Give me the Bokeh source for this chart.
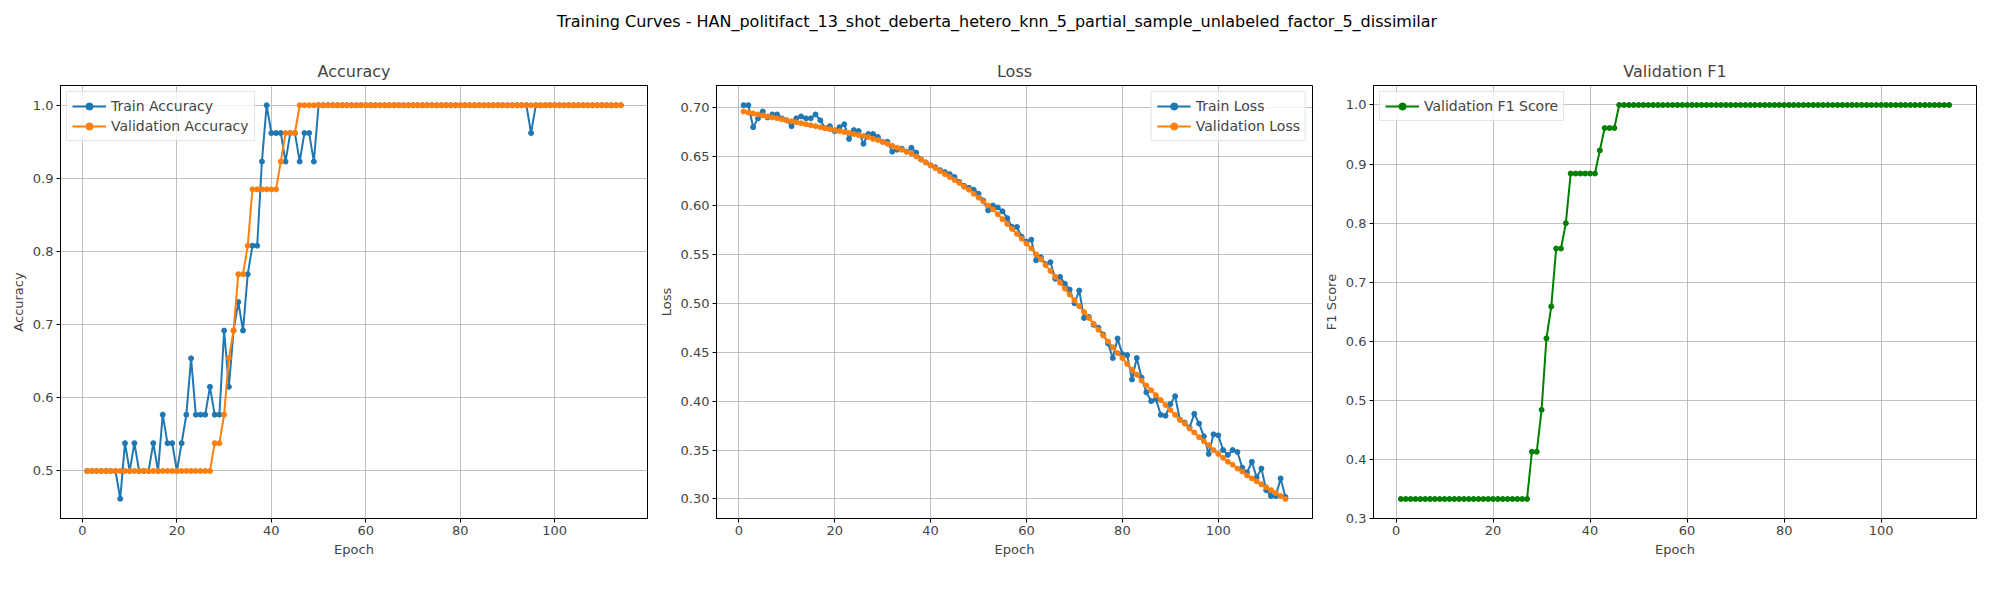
from bokeh.plotting import figure
from bokeh.layouts import column, row
from bokeh.models import Div, Range1d, FixedTicker, PrintfTickFormatter
from bokeh.embed import file_html
from bokeh.resources import INLINE

epochs = list(range(1, 115))

train_acc = ([0.5] * 7 + [0.462, 0.538, 0.5, 0.538, 0.5, 0.5, 0.5, 0.538, 0.5, 0.577, 0.538, 0.538, 0.5,
             0.538, 0.577, 0.654, 0.577, 0.577, 0.577, 0.615, 0.577, 0.577, 0.692, 0.615, 0.692, 0.731,
             0.692, 0.769, 0.808, 0.808, 0.923, 1.0, 0.962, 0.962, 0.962, 0.923, 0.962, 0.962, 0.923,
             0.962, 0.962, 0.923] + [1.0] * 45 + [0.962] + [1.0] * 19)
val_acc = ([0.5] * 27 + [0.538, 0.538, 0.577, 0.654, 0.692, 0.769, 0.769, 0.808] + [0.885] * 6 +
           [0.923, 0.962, 0.962, 0.962] + [1.0] * 69)

train_loss = [0.7025, 0.7025, 0.680, 0.689, 0.696, 0.690, 0.693, 0.693, 0.689, 0.687,
              0.681, 0.689, 0.691, 0.689, 0.689, 0.693, 0.687, 0.679, 0.681, 0.676,
              0.680, 0.683, 0.668, 0.677, 0.676, 0.663, 0.673, 0.673, 0.670, 0.665,
              0.665, 0.655, 0.657, 0.658, 0.655, 0.659, 0.654, 0.647, 0.644, 0.641,
              0.639, 0.636, 0.634, 0.632, 0.629, 0.624, 0.620, 0.618, 0.616, 0.612,
              0.605, 0.595, 0.600, 0.598, 0.594, 0.587, 0.578, 0.578, 0.568, 0.563,
              0.565, 0.544, 0.547, 0.540, 0.542, 0.525, 0.527, 0.520, 0.514, 0.500,
              0.513, 0.485, 0.486, 0.478, 0.475, 0.468, 0.459, 0.444, 0.464, 0.448,
              0.447, 0.422, 0.444, 0.424, 0.409, 0.400, 0.402, 0.386, 0.385, 0.397,
              0.405, 0.381, 0.378, 0.373, 0.387, 0.377, 0.364, 0.346, 0.366, 0.365,
              0.350, 0.345, 0.350, 0.348, 0.332, 0.327, 0.338, 0.322, 0.331, 0.309,
              0.303, 0.303, 0.321, 0.302]
val_loss = [0.696, 0.695, 0.694, 0.693, 0.692, 0.691, 0.690, 0.689, 0.688, 0.687,
            0.686, 0.685, 0.684, 0.683, 0.682, 0.681, 0.680, 0.679, 0.678, 0.677,
            0.676, 0.675, 0.674, 0.673, 0.672, 0.671, 0.670, 0.668, 0.667, 0.665,
            0.663, 0.661, 0.659, 0.657, 0.655, 0.653, 0.650, 0.647, 0.644, 0.641,
            0.638, 0.635, 0.632, 0.629, 0.626, 0.623, 0.619, 0.616, 0.612, 0.608,
            0.604, 0.600, 0.596, 0.591, 0.586, 0.581, 0.576, 0.571, 0.566, 0.561,
            0.556, 0.550, 0.545, 0.539, 0.533, 0.527, 0.521, 0.515, 0.509, 0.503,
            0.497, 0.491, 0.485, 0.479, 0.473, 0.467, 0.461, 0.455, 0.449, 0.444,
            0.438, 0.432, 0.427, 0.421, 0.416, 0.411, 0.406, 0.401, 0.396, 0.391,
            0.386, 0.381, 0.377, 0.372, 0.368, 0.363, 0.359, 0.355, 0.350, 0.346,
            0.342, 0.338, 0.335, 0.331, 0.328, 0.324, 0.321, 0.318, 0.315, 0.312,
            0.309, 0.306, 0.303, 0.300]

val_f1 = ([0.333] * 27 + [0.413, 0.413, 0.484, 0.605, 0.659, 0.757, 0.757, 0.800] + [0.884] * 6 +
          [0.923, 0.961, 0.961, 0.961] + [1.0] * 69)

FONT = "DejaVu Sans"


def make_fig(title, ylabel, yr, yticks, width, left):
    p = figure(width=width, height=505, title=title, output_backend="svg", toolbar_location=None,
               x_range=Range1d(-4.65, 119.65), y_range=Range1d(*yr),
               min_border_left=left, min_border_right=8, min_border_top=10)
    p.title.align = "center"
    p.title.text_font = FONT
    p.title.text_font_size = "16px"
    p.title.text_font_style = "normal"
    p.xaxis.axis_label = "Epoch"
    p.yaxis.axis_label = ylabel
    p.xaxis.ticker = FixedTicker(ticks=[0, 20, 40, 60, 80, 100])
    p.yaxis.ticker = FixedTicker(ticks=yticks)
    for ax in (p.xaxis[0], p.yaxis[0]):
        ax.axis_label_text_font = FONT
        ax.axis_label_text_font_size = "13px"
        ax.axis_label_text_font_style = "normal"
        ax.major_label_text_font = FONT
        ax.major_label_text_font_size = "13px"
        ax.minor_tick_line_color = None
        ax.major_tick_in = 0
        ax.major_tick_out = 4
        ax.axis_label_standoff = 4
        ax.major_label_standoff = 3
    p.grid.grid_line_color = "#b0b0b0"
    p.grid.grid_line_width = 0.8
    p.outline_line_color = "black"
    p.outline_line_alpha = 1
    return p


def series(p, y, color, label):
    p.line(epochs, y, line_color=color, line_width=2, legend_label=label)
    p.scatter(epochs, y, size=5, fill_color=color, line_color=color, legend_label=label)


def style_legend(p, loc):
    p.legend.location = loc
    p.legend.label_text_font = FONT
    p.legend.label_text_font_size = "14px"
    p.legend.border_line_color = "#cccccc"
    p.legend.background_fill_alpha = 0.8
    p.legend.spacing = 2
    p.legend.padding = 5
    p.legend.margin = 6
    p.legend.label_height = 18
    p.legend.glyph_height = 18
    p.legend.glyph_width = 34


p1 = make_fig("Accuracy", "Accuracy", (0.435, 1.027), [0.5, 0.6, 0.7, 0.8, 0.9, 1.0], 655, 60)
series(p1, train_acc, "#1f77b4", "Train Accuracy")
series(p1, val_acc, "#ff7f0e", "Validation Accuracy")
style_legend(p1, "top_left")
p1.yaxis.formatter = PrintfTickFormatter(format="%.1f")

p2 = make_fig("Loss", "Loss", (0.28, 0.7226),
              [0.30, 0.35, 0.40, 0.45, 0.50, 0.55, 0.60, 0.65, 0.70], 665, 40)
series(p2, train_loss, "#1f77b4", "Train Loss")
series(p2, val_loss, "#ff7f0e", "Validation Loss")
style_legend(p2, "top_right")
p2.yaxis.formatter = PrintfTickFormatter(format="%.2f")

p3 = make_fig("Validation F1", "F1 Score", (0.3, 1.033),
              [0.3, 0.4, 0.5, 0.6, 0.7, 0.8, 0.9, 1.0], 664, 40)
series(p3, val_f1, "green", "Validation F1 Score")
style_legend(p3, "top_left")
p3.yaxis.formatter = PrintfTickFormatter(format="%.1f")

title = Div(text="Training Curves - HAN_politifact_13_shot_deberta_hetero_knn_5_partial_sample_unlabeled_factor_5_dissimilar",
            width=1984, height=44,
            styles={"text-align": "center", "font-family": FONT, "font-size": "16px", "padding-top": "6px"})

layout = column(title, row(p1, p2, p3))
open("out.html", "w").write(file_html(layout, INLINE))
